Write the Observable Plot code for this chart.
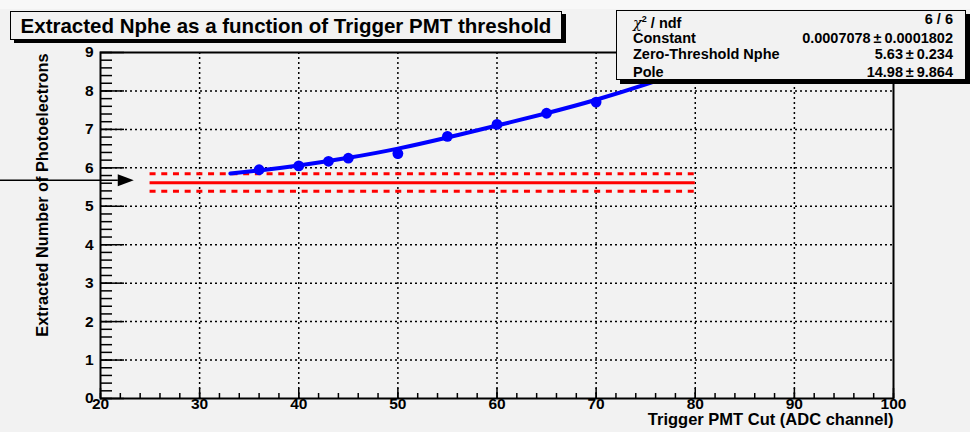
<!DOCTYPE html>
<html>
<head>
<meta charset="utf-8">
<script src="https://cdn.jsdelivr.net/npm/d3@7"></script>
<script src="https://cdn.jsdelivr.net/npm/@observablehq/plot@0.6"></script>
<style>
  html, body { margin: 0; padding: 0; background: #f2f2f2; }
  body { width: 970px; height: 432px; position: relative; overflow: hidden; font-family: "Liberation Sans", Arial, sans-serif; }
  #topstrip { position: absolute; left: 0; top: 0; width: 970px; height: 9px; background: #f8f8f8; }
  #chart { position: absolute; left: 0; top: 0; }
  .box { position: absolute; background: #f2f2f2; border: 1px solid #000; box-sizing: border-box; }
  #title { left: 10px; top: 11px; width: 552px; height: 29px; box-shadow: 4px 3px 0 #000;
           font-weight: bold; font-size: 20.5px; line-height: 27px; text-align: center; color: #000; white-space: nowrap; }
  #stats { left: 616px; top: 10px; width: 350px; height: 70px; box-shadow: 4px 4px 0 #000; border-width: 1.5px; }
  .row { position: absolute; left: 16px; right: 12px; height: 18px; font-weight: bold; font-size: 14.5px; line-height: 18px; color: #000; white-space: nowrap; }
  .row .l { position: absolute; left: 0; }
  .row .r { position: absolute; right: 0; }
  .chi { font-family: "DejaVu Serif", serif; font-weight: normal; font-style: italic; }
</style>
</head>
<body>
<div id="topstrip"></div>
<div id="chart"></div>
<div id="title" class="box"></div>
<div id="stats" class="box"></div>
<script>
// ---- data ----
const titleText = "Extracted Nphe as a function of Trigger PMT threshold";
const xTitle = "Trigger PMT Cut (ADC channel)";
const yTitle = "Extracted Number of Photoelectrons";

const cutX = [36, 40, 43, 45, 50, 55, 60, 65, 70];
const nphe = [5.95, 6.05, 6.17, 6.25, 6.37, 6.82, 7.13, 7.42, 7.71];

const fitX = [33.1, 36, 40, 45, 50, 55, 60, 65, 70, 75, 78];
const fitY = [5.85, 5.93, 6.06, 6.26, 6.50, 6.79, 7.10, 7.42, 7.77, 8.17, 8.44];

const bandX = [25, 80];
const bandCenter = 5.61;
const bandLow = 5.39;
const bandHigh = 5.845;

const arrowX1 = 9.5, arrowX2 = 21.8, arrowHeadX = 22.55, arrowY = 5.68;

const xTicks = [20, 30, 40, 50, 60, 70, 80, 90, 100];
const yTicks = [0, 1, 2, 3, 4, 5, 6, 7, 8, 9];
const xGrid = [30, 40, 50, 60, 70, 80, 90];
const yGrid = [1, 2, 3, 4, 5, 6, 7, 8];
const xMinor = d3.range(20, 100.001, 2);
const yMinor = d3.range(0, 9.001, 0.2);

const statsLabels = ["χ2 / ndf", "Constant", "Zero-Threshold Nphe", "Pole"];
const statsValues = ["6 / 6", "0.0007078\u2009±\u20090.0001802", "5.63\u2009±\u20090.234", "14.98\u2009±\u20099.864"];

// ---- layout ----
const W = 970, H = 432, mL = 100, mR = 77, mT = 52, mB = 34;
const plotW = W - mL - mR, plotH = H - mT - mB;

const fit = fitX.map((x, i) => ({x, y: fitY[i]}));
const pts = cutX.map((x, i) => ({x, y: nphe[i]}));

const triangle = { draw(ctx) { ctx.moveTo(8, 0); ctx.lineTo(-8, -6); ctx.lineTo(-8, 6); ctx.closePath(); } };

const chart = Plot.plot({
  width: W, height: H,
  marginLeft: mL, marginRight: mR, marginTop: mT, marginBottom: mB,
  x: {domain: [20, 100], axis: null},
  y: {domain: [0, 9], axis: null},
  style: {background: "transparent", fontFamily: "'Liberation Sans', Arial, sans-serif", overflow: "visible"},
  marks: [
    // dotted grid
    Plot.ruleX(xGrid, {x: d => d, stroke: "#000", strokeWidth: 1.5, strokeDasharray: "2,3"}),
    Plot.ruleY(yGrid, {y: d => d, stroke: "#000", strokeWidth: 1.5, strokeDasharray: "2,3"}),
    // red band
    Plot.ruleY([bandCenter], {y: d => d, x1: bandX[0], x2: bandX[1], stroke: "#ff0000", strokeWidth: 3}),
    Plot.ruleY([bandLow, bandHigh], {y: d => d, x1: bandX[0], x2: bandX[1], stroke: "#ff0000", strokeWidth: 3, strokeDasharray: "6,5.7"}),
    // fit curve
    Plot.line(fit, {x: "x", y: "y", stroke: "#0000ff", strokeWidth: 4, curve: "natural"}),
    // data points
    Plot.dot(pts, {x: "x", y: "y", r: 5.4, fill: "#0000ff", stroke: "none"}),
    // arrow
    Plot.ruleY([arrowY], {y: d => d, x1: arrowX1, x2: arrowX2, stroke: "#000", strokeWidth: 1.5}),
    Plot.dot([arrowY], {x: arrowHeadX, y: d => d, symbol: triangle, fill: "#000", stroke: "none"}),
    // frame
    Plot.frame({stroke: "#000", strokeWidth: 2}),
    // ticks (inside)
    Plot.ruleX(xMinor, {x: d => d, insetTop: plotH - 5, stroke: "#000", strokeWidth: 1.5}),
    Plot.ruleX(xTicks, {x: d => d, insetTop: plotH - 10, stroke: "#000", strokeWidth: 1.5}),
    Plot.ruleY(yMinor, {y: d => d, insetRight: plotW - 12, stroke: "#000", strokeWidth: 1.5}),
    Plot.ruleY(yTicks, {y: d => d, insetRight: plotW - 24, stroke: "#000", strokeWidth: 1.5}),
    // tick labels
    Plot.text(xTicks, {x: d => d, frameAnchor: "bottom", dy: 10, text: d => String(d), fontSize: 15.5, fontWeight: "bold", fill: "#000"}),
    Plot.text(yTicks, {y: d => d, frameAnchor: "left", textAnchor: "end", dx: -7, text: d => String(d), fontSize: 15.5, fontWeight: "bold", fill: "#000"}),
    // axis titles
    Plot.text([xTitle], {frameAnchor: "bottom-right", textAnchor: "end", dy: 26.5, fontSize: 16.5, fontWeight: "bold", fill: "#000"}),
    Plot.text([yTitle], {frameAnchor: "top-left", textAnchor: "end", rotate: -90, dx: -64, dy: 1, fontSize: 16.3, fontWeight: "bold", fill: "#000"})
  ]
});
document.getElementById("chart").appendChild(chart);

document.getElementById("title").textContent = titleText;

const stats = document.getElementById("stats");
const rowTops = [-1, 18, 34, 52];
statsLabels.forEach((lab, i) => {
  const row = document.createElement("div");
  row.className = "row";
  row.style.top = rowTops[i] + "px";
  const l = document.createElement("span");
  l.className = "l";
  if (i === 0) {
    l.innerHTML = '<span class="chi">χ</span><sup style="font-size:9px">2</sup> / ndf';
  } else {
    l.textContent = lab;
  }
  const r = document.createElement("span");
  r.className = "r";
  r.textContent = statsValues[i];
  row.appendChild(l);
  row.appendChild(r);
  stats.appendChild(row);
});
</script>
</body>
</html>
